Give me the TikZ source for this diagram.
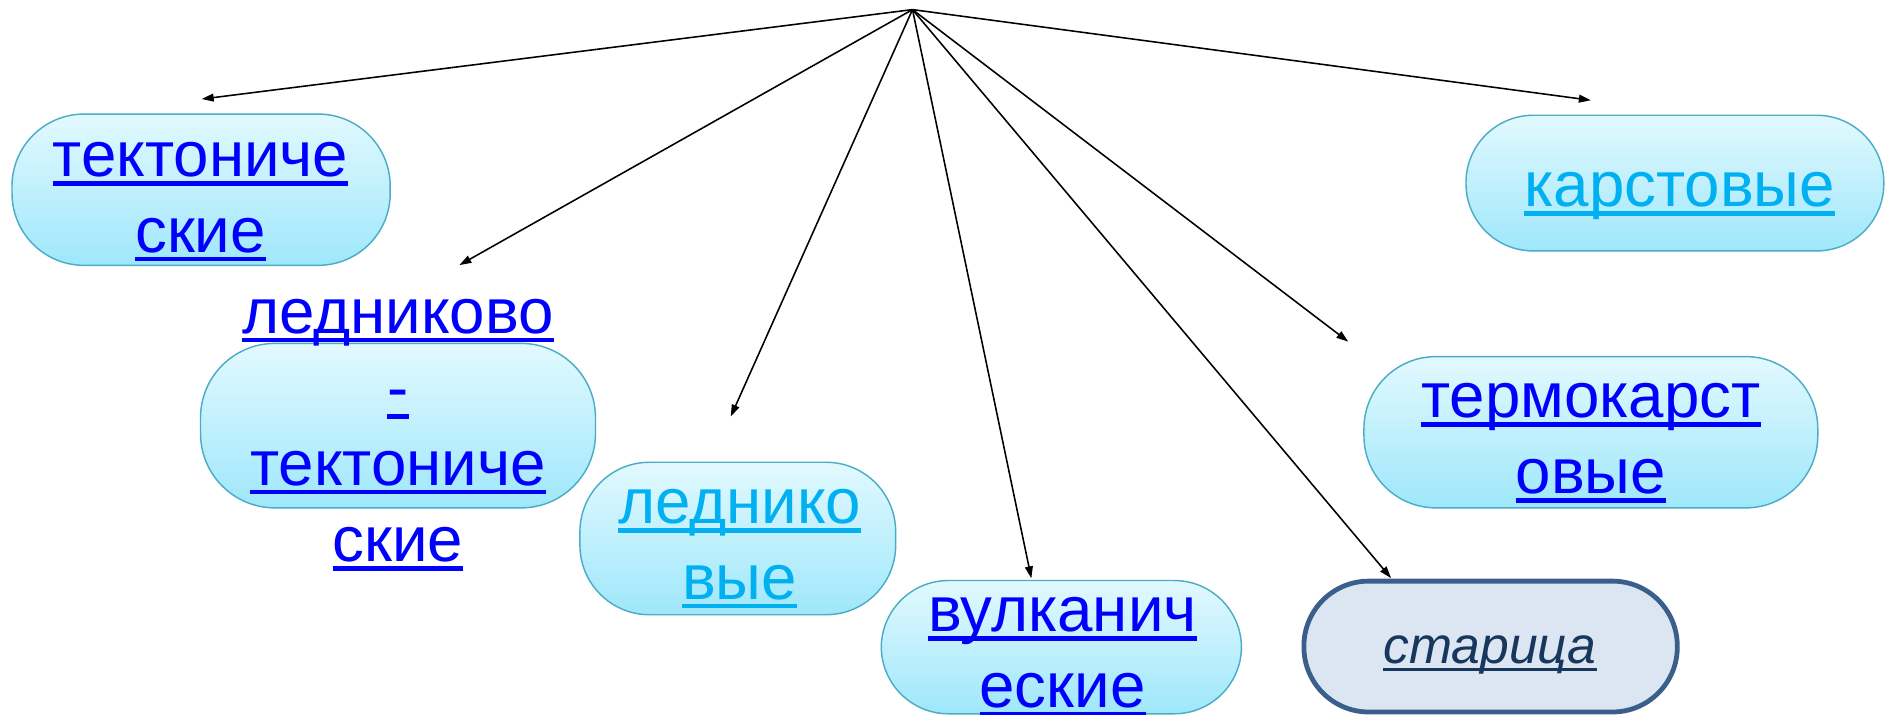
\documentclass[tikz,border=0pt]{standalone}
\usepackage{fontspec}
\setmainfont{Liberation Sans}
\usetikzlibrary{arrows.meta}
\definecolor{linkblue}{HTML}{0000FF}
\definecolor{visited}{HTML}{00B0F0}
\definecolor{aquaedge}{HTML}{4BACC6}
\definecolor{aquatop}{HTML}{E2F9FE}
\definecolor{aquabot}{HTML}{9FE7FB}
\definecolor{navytext}{HTML}{17375E}
\definecolor{navyedge}{HTML}{3A5F8B}
\definecolor{navyfill}{HTML}{DCE6F2}
\newcommand\ulword[1]{\setbox0\hbox{#1}\rlap{\rule[-0.143em]{\wd0}{0.073em}}\box0}
\begin{document}
\begin{tikzpicture}[x=1pt,y=-1pt,
  pill/.style={draw=aquaedge, line width=1.2pt, top color=aquatop, bottom color=aquabot,
    rounded corners=#1, inner sep=0pt},
  pill/.default=58pt,
  oldpill/.style={draw=navyedge, line width=4pt, fill=navyfill, rounded corners=54pt, inner sep=0pt},
  word/.style={font=\fontsize{53}{63}\selectfont, text=linkblue, inner sep=0pt, anchor=base},
  seen/.style={word, text=visited},
  conn/.style={-{Triangle[length=10pt,width=6.5pt]}, line width=1.3pt, black}]
\useasboundingbox (0,0) rectangle (1570,595.5);

% boxes
\node[pill=60pt, minimum width=315pt, minimum height=126pt] (b1) at (167.5,158) {};
\node[pill=62pt, minimum width=329pt, minimum height=137pt] (b2) at (331.5,354.5) {};
\node[pill=58pt, minimum width=263pt, minimum height=127pt] (b3) at (614.5,448.5) {};
\node[pill=56pt, minimum width=300pt, minimum height=111pt] (b4) at (884,539) {};
\node[oldpill, minimum width=311pt, minimum height=109pt] (b5) at (1241.5,538.5) {};
\node[pill=60pt, minimum width=378pt, minimum height=126pt] (b6) at (1325,360) {};
\node[pill=56pt, minimum width=348pt, minimum height=113pt] (b7) at (1395,152.5) {};

% texts
\node[word] (t1a) at (167,147) {\ulword{тектониче}};
\node[word] (t1b) at (167,210) {\ulword{ские}};
\node[word] (t2a) at (331.5,277.6) {\ulword{ледниково}};
\node[word] (t2b) at (331.5,341) {\ulword{-}};
\node[word] (t2c) at (331.5,404) {\ulword{тектониче}};
\node[word] (t2d) at (331.5,468) {\ulword{ские}};
\node[seen] (t3a) at (616,436) {\ulword{леднико}};
\node[seen] (t3b) at (616,499) {\ulword{вые}};
\node[word] (t4a) at (885,526) {\ulword{вулканич}};
\node[word] (t4b) at (885,589) {\ulword{еские}};
\node[word, font=\fontsize{43}{50}\selectfont\itshape, text=navytext] (t5) at (1241,553) {\ulword{старица}};
\node[word] (t6a) at (1325,348) {\ulword{термокарст}};
\node[word] (t6b) at (1325,411) {\ulword{овые}};
\node[seen] (t7) at (1399,172) {\ulword{карстовые}};

% connectors
\coordinate (hub) at (760,8);
\coordinate (e1) at (168,82.5);
\coordinate (e2) at (382.6,220.8);
\coordinate (e3) at (608.6,347);
\coordinate (e4) at (859,481.7);
\coordinate (e5) at (1158.6,481.5);
\coordinate (e6) at (1123,284.6);
\coordinate (e7) at (1325,83.5);
\foreach \e in {e1,e2,e3,e4,e5,e6,e7} \draw[conn] (hub) -- (\e);
\end{tikzpicture}
\end{document}
